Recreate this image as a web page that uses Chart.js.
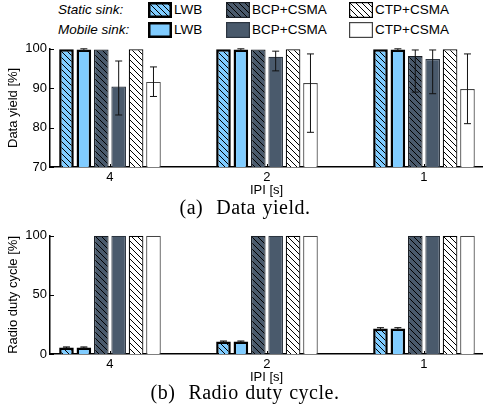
<!DOCTYPE html>
<html><head><meta charset="utf-8">
<script src="https://cdn.jsdelivr.net/npm/chart.js@4/dist/chart.umd.min.js"></script>
<style>
html,body{margin:0;padding:0;background:#fff;}
body{width:483px;height:412px;position:relative;overflow:hidden;font-family:"Liberation Sans",Arial,sans-serif;color:#000;}
#c1{position:absolute;left:0;top:38px;}
#c2{position:absolute;left:0;top:225px;}
.cap{position:absolute;left:0;width:490px;text-align:center;font-family:"Liberation Serif","Times New Roman",serif;font-size:20px;letter-spacing:0.5px;word-spacing:1px;line-height:22px;white-space:pre;}
.lg{position:absolute;font-size:13.5px;line-height:16px;white-space:nowrap;}
.rt{font-style:italic;}
.sw{position:absolute;}
</style></head>
<body>
<div id="legend"></div>
<canvas id="c1" width="483" height="160"></canvas>
<div class="cap" style="top:196px">(a)  Data yield.</div>
<canvas id="c2" width="483" height="160"></canvas>
<div class="cap" style="top:381px">(b)  Radio duty cycle.</div>
<script>
// ---------- data ----------
const categories = ['4', '2', '1'];               // IPI [s]
const protocols = ['LWB', 'BCP+CSMA', 'CTP+CSMA'];
const sinkRows = ['Static sink:', 'Mobile sink:'];

// Data yield [%]
const yieldLWBStatic = [99.9, 99.9, 99.9];
const yieldLWBMobile = [99.8, 99.8, 99.8];
const yieldBCPStatic = [99.8, 99.8, 98.2];
const yieldBCPMobile = [90.4, 98.0, 97.4];
const yieldCTPStatic = [99.9, 99.9, 99.9];
const yieldCTPMobile = [91.6, 91.3, 89.8];
// error ranges [low, high]
const yieldErrLWBStatic = [null, null, null];
const yieldErrLWBMobile = [[99.5, 100], [99.5, 100], [99.5, 100]];
const yieldErrBCPStatic = [null, null, [89.0, 99.7]];
const yieldErrBCPMobile = [[83.2, 96.9], [94.4, 99.4], [88.6, 99.7]];
const yieldErrCTPStatic = [null, null, null];
const yieldErrCTPMobile = [[87.9, 95.4], [78.8, 98.7], [81.0, 98.7]];

// Radio duty cycle [%]
const dutyLWBStatic = [5.5, 10.5, 21.5];
const dutyLWBMobile = [5.5, 10.5, 21.5];
const dutyBCPStatic = [100, 100, 100];
const dutyBCPMobile = [100, 100, 100];
const dutyCTPStatic = [100, 100, 100];
const dutyCTPMobile = [100, 100, 100];
const dutyErrLWBStatic = [[5.0, 6.0], [10.0, 11.0], [20.8, 22.3]];
const dutyErrLWBMobile = [[5.0, 6.0], [10.0, 11.0], [20.8, 22.3]];

const yieldTicks = [70, 80, 90, 100];
const dutyTicks = [0, 50, 100];

// ---------- styles ----------
const LIGHT = '#80ccff', DARK = '#4a5a6c', WHITE = '#ffffff';
const ctx0 = document.getElementById('c1').getContext('2d');
function hatch(fill) {
  const s = 6, c = document.createElement('canvas');
  c.width = c.height = s;
  const g = c.getContext('2d');
  g.fillStyle = fill; g.fillRect(0, 0, s, s);
  g.strokeStyle = '#000'; g.lineWidth = 1;
  g.beginPath();
  g.moveTo(-1, -1); g.lineTo(s + 1, s + 1);
  g.moveTo(s - 1, -1); g.lineTo(s + 1, 1);
  g.moveTo(-1, s - 1); g.lineTo(1, s + 1);
  g.stroke();
  return ctx0.createPattern(c, 'repeat');
}
const styles = [
  {bg: hatch(LIGHT), border: '#000', bw: 2.5},
  {bg: LIGHT, border: '#000', bw: 2.5},
  {bg: hatch(DARK), border: '#1a1f26', bw: 1.2},
  {bg: DARK, border: '#2c3540', bw: 1.2},
  {bg: hatch(WHITE), border: '#000', bw: 1.2},
  {bg: WHITE, border: '#444', bw: 1.2}
];

Chart.defaults.font.family = '"Liberation Sans", Arial, sans-serif';
Chart.defaults.font.size = 13;
Chart.defaults.color = '#000';

const errPlugin = {
  id: 'errbars',
  afterDatasetsDraw(chart) {
    const ctx = chart.ctx, ys = chart.scales.y;
    chart.data.datasets.forEach((ds, i) => {
      if (!ds.errors) return;
      chart.getDatasetMeta(i).data.forEach((bar, j) => {
        const e = ds.errors[j]; if (!e) return;
        const x = bar.x, y1 = ys.getPixelForValue(e[0]), y2 = ys.getPixelForValue(e[1]);
        ctx.save(); ctx.strokeStyle = '#111'; ctx.lineWidth = 1;
        ctx.beginPath();
        ctx.moveTo(x, y1); ctx.lineTo(x, y2);
        ctx.moveTo(x - 3.5, y1); ctx.lineTo(x + 3.5, y1);
        ctx.moveTo(x - 3.5, y2); ctx.lineTo(x + 3.5, y2);
        ctx.stroke(); ctx.restore();
      });
    });
  }
};
const tickPlugin = {
  id: 'inticks',
  afterDraw(chart) {
    const ctx = chart.ctx, a = chart.chartArea, xs = chart.scales.x, ys = chart.scales.y;
    ctx.save(); ctx.strokeStyle = '#000'; ctx.lineWidth = 1; ctx.beginPath();
    ys.ticks.forEach(t => { const p = Math.round(ys.getPixelForValue(t.value)) + 0.5; ctx.moveTo(a.left, p); ctx.lineTo(a.left + 4, p); });
    xs.ticks.forEach(t => { const p = Math.round(xs.getPixelForValue(t.value)) + 0.5; ctx.moveTo(p, a.bottom); ctx.lineTo(p, a.bottom - 3); });
    ctx.stroke(); ctx.restore();
  }
};

function makeChart(id, series, errs, yMin, yMax, yTicks, yTitle) {
  const datasets = series.map((vals, k) => ({
    data: vals.map((v, i) => ({x: i, y: v})),
    errors: errs[k],
    backgroundColor: styles[k].bg,
    borderColor: styles[k].border,
    borderWidth: styles[k].bw,
    categoryPercentage: 0.665,
    barPercentage: 0.84
  }));
  return new Chart(document.getElementById(id), {
    type: 'bar',
    data: {datasets},
    options: {
      responsive: false, animation: false, devicePixelRatio: 1,
      layout: {padding: {top: 9, left: 0, right: 0, bottom: 0}},
      plugins: {legend: {display: false}, tooltip: {enabled: false}},
      scales: {
        x: {
          type: 'linear', min: -0.382, max: 2.376, offset: false,
          afterBuildTicks: s => { s.ticks = categories.map((c, i) => ({value: i})); },
          afterFit: s => { s.height = 31; },
          grid: {display: false, drawTicks: false, offset: false},
          border: {display: true, color: '#000', width: 1.5},
          ticks: {padding: 3, maxRotation: 0, autoSkip: false, callback: v => categories[v] ?? ''},
          title: {display: true, text: 'IPI [s]', padding: 0}
        },
        y: {
          min: yMin, max: yMax,
          afterBuildTicks: s => { s.ticks = yTicks.map(v => ({value: v})); },
          afterFit: s => { s.width = 50; },
          grid: {display: false, drawTicks: false},
          border: {display: true, color: '#000', width: 1.5},
          ticks: {padding: 3},
          title: {display: true, text: yTitle, padding: {top: 6, bottom: 0}}
        }
      }
    },
    plugins: [errPlugin, tickPlugin]
  });
}

makeChart('c1',
  [yieldLWBStatic, yieldLWBMobile, yieldBCPStatic, yieldBCPMobile, yieldCTPStatic, yieldCTPMobile],
  [yieldErrLWBStatic, yieldErrLWBMobile, yieldErrBCPStatic, yieldErrBCPMobile, yieldErrCTPStatic, yieldErrCTPMobile],
  70, 100, yieldTicks, 'Data yield [%]');
makeChart('c2',
  [dutyLWBStatic, dutyLWBMobile, dutyBCPStatic, dutyBCPMobile, dutyCTPStatic, dutyCTPMobile],
  [dutyErrLWBStatic, dutyErrLWBMobile, null, null, null, null],
  0, 100, dutyTicks, 'Radio duty cycle [%]');

// ---------- legend ----------
const lg = document.getElementById('legend');
const colX = [148, 226, 349], rowY = [2, 22];
sinkRows.forEach((r, ri) => {
  const t = document.createElement('div');
  t.className = 'lg rt'; t.textContent = r;
  t.style.left = '58px'; t.style.top = (rowY[ri]) + 'px';
  lg.appendChild(t);
  protocols.forEach((p, pi) => {
    const st = styles[pi * 2 + ri];
    const c = document.createElement('canvas');
    c.width = 24; c.height = 16; c.className = 'sw';
    c.style.left = colX[pi] + 'px'; c.style.top = rowY[ri] + 'px';
    const g = c.getContext('2d');
    g.fillStyle = st.bg; g.fillRect(0, 0, 24, 16);
    g.strokeStyle = st.border; g.lineWidth = st.bw;
    g.strokeRect(st.bw / 2, st.bw / 2, 24 - st.bw, 16 - st.bw);
    lg.appendChild(c);
    const l = document.createElement('div');
    l.className = 'lg'; l.textContent = p;
    l.style.left = (colX[pi] + 26) + 'px'; l.style.top = rowY[ri] + 'px';
    lg.appendChild(l);
  });
});
</script>
</body></html>
